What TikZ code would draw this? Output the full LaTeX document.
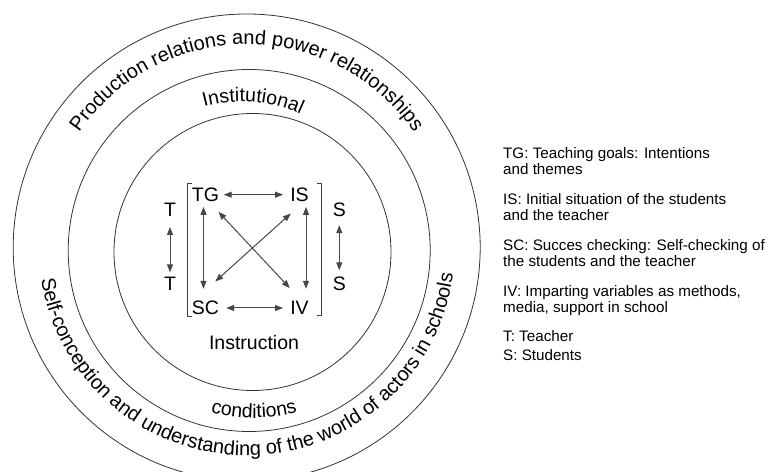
\documentclass[tikz,border=0pt]{standalone}
\usepackage{fontspec}
\setmainfont{Liberation Sans}
\usetikzlibrary{decorations.text,arrows.meta}
\begin{document}
\begin{tikzpicture}[x=1pt,y=1pt,
  ring/.style={draw=black!80, line width=0.8pt},
  lbl/.style={font=\fontsize{19.5}{20}\selectfont, inner sep=0pt, text height=14pt, text depth=0pt, anchor=base},
  lgd/.style={font=\fontsize{15.2}{16}\selectfont, inner sep=0pt, anchor=base west},
  arr/.style={draw=black!72, line width=1pt, {Triangle[length=8pt,width=6pt]}-{Triangle[length=8pt,width=6pt]}},
  brk/.style={draw=black!75, line width=0.8pt},
  ]
\useasboundingbox (0,0) rectangle (768,471);
% ring centres
\coordinate (Oo) at (246.7,223.5);
\coordinate (Om) at (249.2,220.5);
\coordinate (Oi) at (252.5,219);
\coordinate (Ot) at (242,228.3);
\coordinate (Oc) at (254,216);
\draw[ring] (Oo) circle[radius=233.5];
\draw[ring] (Om) circle[radius=181];
\draw[ring] (Oi) circle[radius=138.5];
% ring texts
\path[decorate, decoration={text along path, text align=center,
  text={|\fontsize{20}{24}\selectfont|Production relations and power relationships}}]
  ([shift={(150:203)}]Oo) arc[start angle=150, end angle=30, radius=203];
\path[decorate, decoration={text along path, text align=center,
  text={|\fontsize{20}{24}\selectfont|Self-conception and understanding of the world of actors in schools}}]
  ([shift={(185:208)}]Oo) arc[start angle=185, end angle=356.5, radius=208];
\path[decorate, decoration={text along path, text align=center,
  text={|\fontsize{19.5}{24}\selectfont|Institutional}}]
  ([shift={(115.5:141)}]Ot) arc[start angle=115.5, end angle=55.5, radius=141];
\path[decorate, decoration={text along path, text align=center,
  text={|\fontsize{19.5}{24}\selectfont|conditions}}]
  ([shift={(240:163)}]Oc) arc[start angle=240, end angle=300, radius=163];
% inner nodes
\node[lbl] (TG) at (205.5,269.3) {TG};
\node[lbl] (IS) at (299.5,269.3) {IS};
\node[lbl] (SC) at (205.5,156) {SC};
\node[lbl] (IV) at (299.5,156) {IV};
\node[lbl] (T1) at (170,254.3) {T};
\node[lbl] (T2) at (170,180) {T};
\node[lbl] (S1) at (339.3,254.3) {S};
\node[lbl] (S2) at (339.3,180) {S};
\node[lbl] (instr) at (254,121) {Instruction};
% brackets
\draw[brk] (191.5,288) -- (187,288) -- (187,154.5) -- (191.5,154.5);
\draw[brk] (317.2,288) -- (321.7,288) -- (321.7,155.5) -- (317.2,155.5);
% arrows
\draw[arr] ([xshift=4.5pt]TG.east) -- ([xshift=-7pt]IS.west);
\draw[arr] ([xshift=7pt]SC.east) -- ([xshift=-7pt]IV.west);
\draw[arr] ([shift={(-2pt,-5pt)}]TG.south) -- ([shift={(-2pt,12pt)}]SC.north);
\draw[arr] ([shift={(6.5pt,-5pt)}]IS.south) -- ([shift={(6.5pt,12pt)}]IV.north);
\draw[arr] ([shift={(-0.75pt,-10pt)}]TG.south east) -- ([shift={(-0.3pt,12.7pt)}]IV.north west);
\draw[arr] ([shift={(0.7pt,-11.6pt)}]IS.south west) -- ([shift={(-4pt,19.3pt)}]SC.north east);
\draw[arr] ([yshift=-10pt]T1.south) -- ([yshift=4.5pt]T2.north);
\draw[arr] ([yshift=-8.3pt]S1.south) -- ([yshift=6.5pt]S2.north);
% legend
\node[lgd] (l1a) at (503,312.7) {TG: Teaching goals: Intentions};
\node[lgd] (l1b) at (503,296.7) {and themes};
\node[lgd] (l2a) at (503,266) {IS: Initial situation of the students};
\node[lgd] (l2b) at (503,250) {and the teacher};
\node[lgd] (l3a) at (503,220) {SC: Succes checking: Self-checking of};
\node[lgd] (l3b) at (503,204) {the students and the teacher};
\node[lgd] (l4a) at (503,174) {IV: Imparting variables as methods,};
\node[lgd] (l4b) at (503,158) {media, support in school};
\node[lgd] (l5) at (503,129) {T: Teacher};
\node[lgd] (l6) at (503,110.5) {S: Students};
\end{tikzpicture}
\end{document}
